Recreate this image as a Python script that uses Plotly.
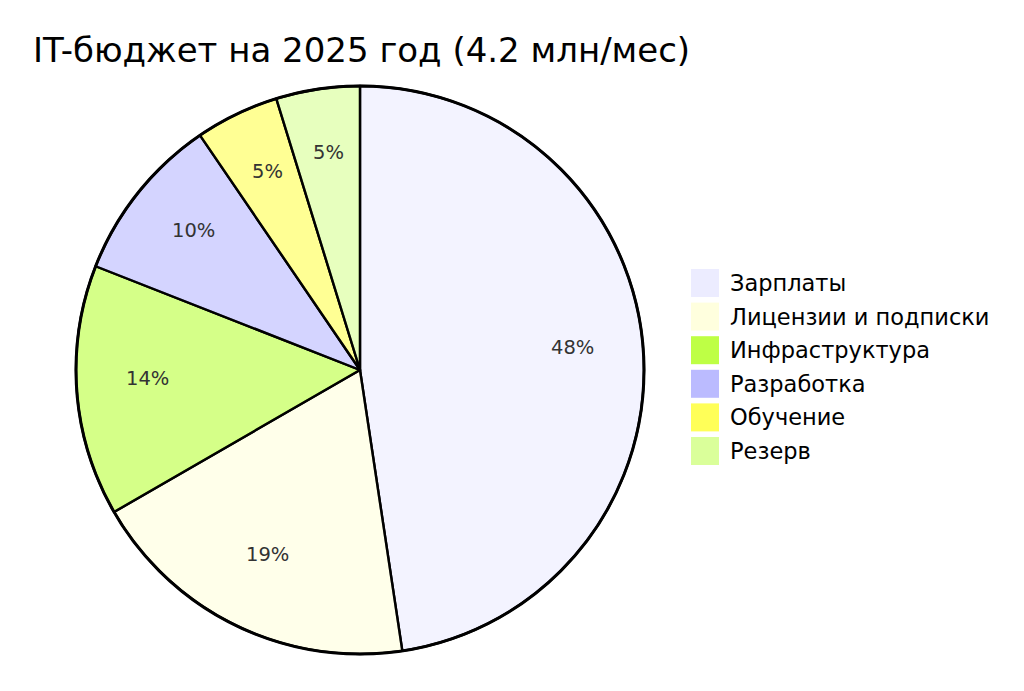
import math
import plotly.graph_objects as go

categories = ["Зарплаты", "Лицензии и подписки", "Инфраструктура", "Разработка", "Обучение", "Резерв"]
values = [2.0, 0.8, 0.6, 0.4, 0.2, 0.2]  # млн/мес
colors = ["#ECECFF", "#FFFFDE", "#BEFF45", "#BBBBFF", "#FFFF58", "#DAFF9A"]
title_text = "IT-бюджет на 2025 год (4.2 млн/мес)"

W, H = 1024, 691
OFF = 8  # page body margin
FONT = "DejaVu Sans"
SLICE_ALPHA = 0.64


def px(x):
    return (x - OFF) / W


def py(y):
    return 1 - (y - OFF) / H


def rgba(hex_color, a):
    h = hex_color.lstrip("#")
    r, g, b = int(h[0:2], 16), int(h[2:4], 16), int(h[4:6], 16)
    return f"rgba({r},{g},{b},{a})"


# pie geometry (page pixels)
CX, CY, R = 360, 370, 284

fig = go.Figure()
fig.add_trace(go.Pie(
    labels=categories,
    values=values,
    sort=False,
    direction="clockwise",
    rotation=0,
    marker=dict(colors=[rgba(c, SLICE_ALPHA) for c in colors], line=dict(color="#000000", width=2.4)),
    textinfo="none",
    textposition="none",
    domain=dict(x=[px(CX - R), px(CX + R)], y=[py(CY + R), py(CY - R)]),
    showlegend=False,
    hoverinfo="label+value+percent",
))

shapes, annotations = [], []

# outer rim
shapes.append(dict(type="circle", xref="paper", yref="paper",
                   x0=px(CX - R), x1=px(CX + R), y0=py(CY + R), y1=py(CY - R),
                   line=dict(color="#000000", width=3), fillcolor="rgba(0,0,0,0)"))

# percentage labels at 0.75 radius of each slice's mid-angle (baseline on the arc)
total = sum(values)
cum = 0.0
for v in values:
    mid = (cum + v / 2) / total * 2 * math.pi
    cum += v
    lx = CX + 0.75 * R * math.sin(mid)
    ly = CY - 0.75 * R * math.cos(mid) - 7
    annotations.append(dict(xref="paper", yref="paper", x=px(lx), y=py(ly),
                            xanchor="center", yanchor="middle", showarrow=False,
                            text=f"{round(v / total * 100)}%",
                            font=dict(family=FONT, size=19.5, color="#333333")))

# custom legend (large square swatches)
box_x0, box_size, text_x, row0, row_step = 691, 28, 728, 283, 33.6
for i, (cat, col) in enumerate(zip(categories, colors)):
    cy = row0 + i * row_step
    shapes.append(dict(type="rect", xref="paper", yref="paper",
                       x0=px(box_x0), x1=px(box_x0 + box_size),
                       y0=py(cy + box_size / 2), y1=py(cy - box_size / 2),
                       fillcolor=col, line=dict(width=0)))
    annotations.append(dict(xref="paper", yref="paper", x=px(text_x), y=py(cy),
                            xanchor="left", yanchor="middle", showarrow=False,
                            text=cat, font=dict(family=FONT, size=22.5, color="#000000")))

fig.update_layout(
    width=W, height=H,
    margin=dict(l=0, r=0, t=0, b=0),
    paper_bgcolor="white", plot_bgcolor="white",
    title=dict(text=title_text, x=px(33), xanchor="left", y=py(50), yanchor="middle",
               font=dict(family=FONT, size=34, color="#000000")),
    shapes=shapes,
    annotations=annotations,
)

fig.write_html("out.html")
